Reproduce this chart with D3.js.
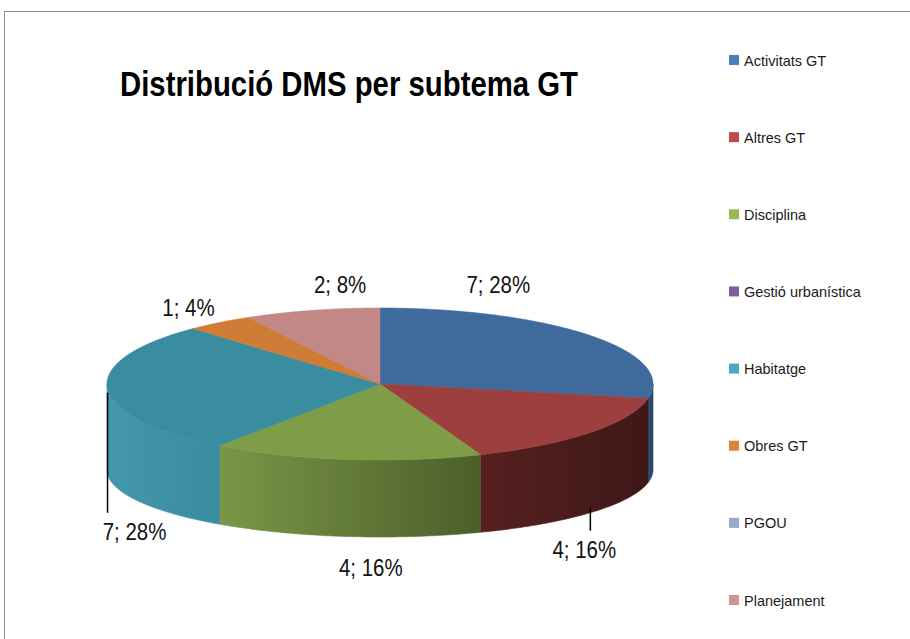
<!DOCTYPE html>
<html>
<head>
<meta charset="utf-8">
<script src="https://cdn.jsdelivr.net/npm/d3@7"></script>
<style>
  html, body { margin: 0; padding: 0; background: #fff; }
  svg { display: block; }
</style>
</head>
<body>
<script>
// ---- data ----
const categories = ["Activitats GT", "Altres GT", "Disciplina", "Gestió urbanística", "Habitatge", "Obres GT", "PGOU", "Planejament"];
const values = [7, 4, 4, 0, 7, 1, 0, 2];
const title = "Distribució DMS per subtema GT";

// ---- styles ----
const legendColors = ["#4A7EBB", "#BE4B48", "#98B954", "#7D5FA0", "#46AAC5", "#DB843D", "#93A9CF", "#D19392"];
const topColors    = ["#3F6A9C", "#9C3F3E", "#7F9C47", "#7D5FA0", "#3A8CA1", "#CF7C36", "#93A9CF", "#C18886"];
const sideColors   = [["#2F5079", "#2A4469"], ["#56201F", "#3F1818"], ["#7A9746", "#4C5E2B"], ["#5E4778", "#4A3860"],
                      ["#4497AC", "#3A8B9F"], ["#A8632B", "#8C5224"], ["#7085A3", "#5D6F88"], ["#9E6E6C", "#8A5F5D"]];
// label placement: anchor on top or bottom rim at mid-angle, offset to text baseline-centre
const labelPlace = [
  {rim: "top", dx: -92, dy: -43, leader: null},
  {rim: "bottom", dx: -6, dy: 45, leader: [-5, 18]},
  {rim: "bottom", dx: 25, dy: 40, leader: null},
  null,
  {rim: "top", dx: 27, dy: 151, leader: [4, 124]},
  {rim: "top", dx: -31, dy: -7, leader: null},
  null,
  {rim: "top", dx: 28, dy: -17, leader: null}
];

const W = 910, H = 639;
const svg = d3.select("body").append("svg").attr("width", W).attr("height", H);
const defs = svg.append("defs");

// border
svg.append("rect").attr("x", 4.5).attr("y", 11.5).attr("width", 1200).attr("height", 1200)
  .attr("fill", "none").attr("stroke", "#8C8C8C").attr("stroke-width", 1);

// title
const tt = svg.append("text").attr("x", 349).attr("y", 96).attr("text-anchor", "middle")
  .attr("font-family", "'Liberation Sans', Arial, sans-serif").attr("font-weight", "bold")
  .attr("font-size", 35).attr("fill", "#000").text(title);
tt.attr("textLength", 458).attr("lengthAdjust", "spacingAndGlyphs");

// pie geometry
const cx = 380, cyTop = 384, rx = 273, ryTop = 76, cyBot = 470, ryBot = 67;
const topPt = a => [cx + rx * Math.sin(a), cyTop - ryTop * Math.cos(a)];
const botPt = a => [cx + rx * Math.sin(a), cyBot - ryBot * Math.cos(a)];

const pie = d3.pie().sort(null).value(d => d.v).startAngle(0).endAngle(2 * Math.PI);
const total = d3.sum(values);
const data = pie(categories.map((c, i) => ({c, v: values[i], i})));

const step = Math.PI / 360;
const line = d3.line();

// side walls (front half only)
const sides = svg.append("g");
data.forEach(d => {
  if (d.value === 0) return;
  const a0 = Math.max(d.startAngle, Math.PI / 2), a1 = Math.min(d.endAngle, 3 * Math.PI / 2);
  if (a1 <= a0) return;
  const xA = topPt(a0)[0], xB = topPt(a1)[0];
  const xmin = Math.min(xA, xB), xmax = Math.max(xA, xB);
  const gid = "side" + d.data.i;
  const g = defs.append("linearGradient").attr("id", gid).attr("gradientUnits", "userSpaceOnUse")
    .attr("x1", xmin).attr("x2", xmax).attr("y1", 0).attr("y2", 0);
  g.append("stop").attr("offset", 0).attr("stop-color", sideColors[d.data.i][0]);
  g.append("stop").attr("offset", 1).attr("stop-color", sideColors[d.data.i][1]);
  const n = Math.max(2, Math.ceil((a1 - a0) / step));
  const upper = d3.range(n + 1).map(k => topPt(a0 + (a1 - a0) * k / n));
  const lower = d3.range(n + 1).map(k => botPt(a1 - (a1 - a0) * k / n));
  sides.append("path").attr("d", line(upper.concat(lower)) + "Z")
    .attr("fill", `url(#${gid})`).attr("stroke", `url(#${gid})`).attr("stroke-width", 0.6);
});

// top faces
const tops = svg.append("g");
data.forEach(d => {
  if (d.value === 0) return;
  const pts = [[cx, cyTop]];
  const n = Math.max(2, Math.ceil((d.endAngle - d.startAngle) / step));
  for (let k = 0; k <= n; k++) pts.push(topPt(d.startAngle + (d.endAngle - d.startAngle) * k / n));
  tops.append("path").attr("d", line(pts) + "Z").attr("fill", topColors[d.data.i])
    .attr("stroke", topColors[d.data.i]).attr("stroke-width", 0.6);
});

// labels
const labels = svg.append("g");
data.forEach(d => {
  const p = labelPlace[d.data.i];
  if (d.value === 0 || !p) return;
  const mid = (d.startAngle + d.endAngle) / 2;
  const anc = p.rim === "top" ? topPt(mid) : botPt(mid);
  if (p.leader) {
    labels.append("line").attr("x1", anc[0]).attr("x2", anc[0])
      .attr("y1", anc[1] + p.leader[0]).attr("y2", anc[1] + p.leader[1])
      .attr("stroke", "#000").attr("stroke-width", 1.5);
  }
  const txt = labels.append("text").attr("x", anc[0] + p.dx).attr("y", anc[1] + p.dy)
    .attr("text-anchor", "middle").attr("font-family", "'Liberation Sans', Arial, sans-serif")
    .attr("font-size", 23).attr("fill", "#111")
    .text(`${d.value}; ${Math.round(d.value / total * 100)}%`);
  const L = txt.node().getComputedTextLength();
  txt.attr("textLength", L * 0.89).attr("lengthAdjust", "spacingAndGlyphs");
});

// legend
const ly = d3.scalePoint().domain(categories).range([60, 600]);
const leg = svg.append("g");
categories.forEach((c, i) => {
  leg.append("rect").attr("x", 729).attr("y", ly(c) - 5).attr("width", 10).attr("height", 10).attr("fill", legendColors[i]);
  leg.append("text").attr("x", 744).attr("y", ly(c) + 5.5).attr("font-family", "'Liberation Sans', Arial, sans-serif")
    .attr("font-size", 14.5).attr("fill", "#1a1a1a").text(c);
});
</script>
</body>
</html>
